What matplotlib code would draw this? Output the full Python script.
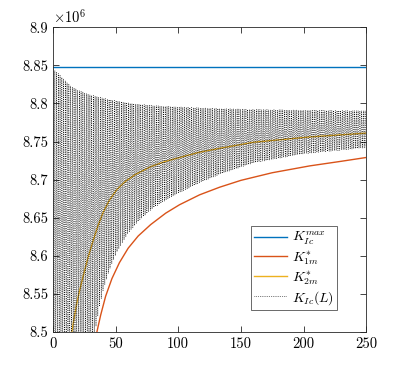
import numpy as np
import matplotlib
matplotlib.use("Agg")
import matplotlib.pyplot as plt

# ---- data (values in units of 1e6) ----
kmax_value = 8.848

k1m_x = [35, 38, 42, 47, 53, 60, 68, 78, 90, 101, 117, 133, 150, 175, 205, 230, 250]
k1m_y = [8.50, 8.522, 8.547, 8.570, 8.591, 8.610, 8.626, 8.641, 8.656, 8.667, 8.680, 8.690, 8.699, 8.709, 8.718, 8.724, 8.729]

k2m_x = [15, 17, 19, 21, 24, 28, 32, 36, 40, 45, 51, 58, 66, 78, 90, 101, 117, 133, 160, 205, 250]
k2m_y = [8.50, 8.520, 8.538, 8.553, 8.573, 8.598, 8.620, 8.640, 8.657, 8.673, 8.687, 8.698, 8.707, 8.717, 8.724, 8.729, 8.736, 8.741, 8.749, 8.756, 8.761]

kic_upper_x = [0, 3, 6, 10, 14, 20, 30, 45, 62, 80, 117, 157, 200, 250]
kic_upper_y = [8.845, 8.841, 8.836, 8.829, 8.823, 8.817, 8.811, 8.805, 8.800, 8.797, 8.794, 8.792, 8.791, 8.790]

kic_lower_x = [0, 33.5, 35, 37, 40, 45, 51, 60, 69.5, 80, 90, 101, 117, 133, 160, 200, 250]
kic_lower_y = [8.45, 8.50, 8.515, 8.533, 8.555, 8.582, 8.605, 8.630, 8.648, 8.663, 8.673, 8.683, 8.696, 8.707, 8.722, 8.734, 8.742]

xticks = [0, 50, 100, 150, 200, 250]
yticks = [8.5, 8.55, 8.6, 8.65, 8.7, 8.75, 8.8, 8.85, 8.9]
ytick_labels = ["8.5", "8.55", "8.6", "8.65", "8.7", "8.75", "8.8", "8.85", "8.9"]
legend_labels = [r"$K_{Ic}^{max}$", r"$K_{1m}^{*}$", r"$K_{2m}^{*}$", r"$K_{Ic}(L)$"]

# ---- style ----
plt.rcParams["font.family"] = "serif"
plt.rcParams["font.serif"] = ["cmr10", "DejaVu Serif"]
plt.rcParams["mathtext.fontset"] = "cm"
plt.rcParams["axes.formatter.use_mathtext"] = True

fig = plt.figure(figsize=(4.05, 3.73), dpi=100)
ax = fig.add_axes([0.131, 0.110, 0.773, 0.817])

c_blue = "#0072BD"
c_orange = "#D95319"
c_yellow = "#EDB120"

# oscillating K_Ic(L) between its read envelopes
L = np.arange(0, 250.01, 0.7)
up = np.interp(L, kic_upper_x, kic_upper_y)
lo = np.interp(L, kic_lower_x, kic_lower_y)
osc = np.where((np.arange(L.size) % 2) == 0, up, lo)

ax.plot([0, 250], [kmax_value, kmax_value], color=c_blue, lw=1.0, label=legend_labels[0])
ax.plot(k1m_x, k1m_y, color=c_orange, lw=1.0, label=legend_labels[1])
ax.plot(k2m_x, k2m_y, color=c_yellow, lw=1.0, label=legend_labels[2])
ax.plot(L, osc, color="black", lw=0.5, ls=":", label=legend_labels[3])

ax.set_xlim(0, 250)
ax.set_ylim(8.5, 8.9)
ax.set_xticks(xticks)
ax.set_xticklabels([str(t) for t in xticks])
ax.set_yticks(yticks)
ax.set_yticklabels(ytick_labels)
ax.tick_params(direction="in", top=True, right=True, length=4, width=0.6,
               labelsize=10.5, colors="#262626", labelcolor="black")
for s in ax.spines.values():
    s.set_linewidth(0.6)
    s.set_color("#262626")

ax.text(0.0, 1.005, r"$\times10^{6}$", transform=ax.transAxes, ha="left", va="bottom", fontsize=10.5)

leg = ax.legend(loc="lower right", bbox_to_anchor=(0.907, 0.072), borderaxespad=0,
                fancybox=False, frameon=True, fontsize=10, handlelength=2.4,
                handletextpad=0.3, labelspacing=0.15, borderpad=0.25)
leg.get_frame().set_edgecolor("#262626")
leg.get_frame().set_linewidth(0.6)

fig.savefig("out.png", dpi=100)
